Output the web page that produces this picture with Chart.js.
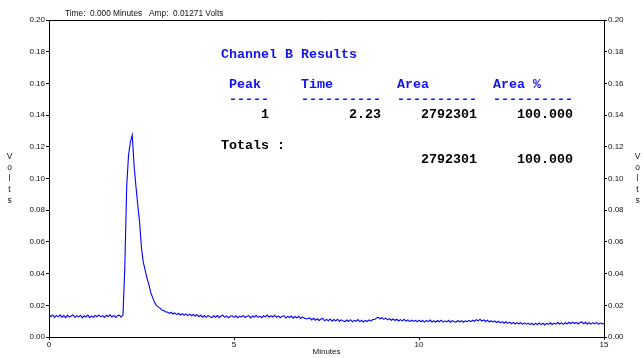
<!DOCTYPE html>
<html>
<head>
<meta charset="utf-8">
<script src="https://cdn.jsdelivr.net/npm/chart.js@4.4.1/dist/chart.umd.min.js"></script>
<style>
  body { margin: 0; background: #fff; }
  #container { width: 643px; height: 358px; position: relative; }
</style>
</head>
<body>
<div id="container"><canvas id="canvas"></canvas></div>
<script>
// detector trace, one reading every 0.05 min from 0 to 15 min
var sampleStep = 0.05;
var volts = [
  0.0144,0.0128,0.0139,0.0124,0.0136,0.0127,0.0140,0.0125,0.0135,0.0122,0.0138,0.0126,0.0133,0.0139,0.0123,0.0135,0.0127,0.0137,0.0121,0.0134,
  0.0126,0.0138,0.0122,0.0133,0.0125,0.0136,0.0128,0.0139,0.0127,0.0135,0.0123,0.0137,0.0129,0.0140,0.0126,0.0136,0.0123,0.0134,0.0138,0.0127,
  0.0138,0.0450,0.0950,0.1150,0.1230,0.1275,0.1080,0.0950,0.0830,0.0720,0.0560,0.0470,0.0420,0.0370,0.0330,0.0280,0.0250,0.0220,0.0200,0.0190,
  0.0182,0.0170,0.0167,0.0158,0.0158,0.0149,0.0156,0.0145,0.0152,0.0141,0.0150,0.0139,0.0147,0.0137,0.0146,0.0135,0.0144,0.0134,0.0142,0.0132,
  0.0140,0.0129,0.0137,0.0125,0.0135,0.0124,0.0136,0.0127,0.0122,0.0134,0.0125,0.0135,0.0123,0.0132,0.0137,0.0124,0.0133,0.0122,0.0131,0.0135,
  0.0124,0.0134,0.0122,0.0132,0.0125,0.0136,0.0123,0.0131,0.0135,0.0121,0.0133,0.0126,0.0137,0.0124,0.0132,0.0122,0.0134,0.0127,0.0138,0.0125,
  0.0135,0.0126,0.0137,0.0124,0.0133,0.0122,0.0131,0.0134,0.0120,0.0130,0.0123,0.0133,0.0119,0.0129,0.0121,0.0131,0.0117,0.0127,0.0119,0.0115,
  0.0116,0.0121,0.0108,0.0118,0.0106,0.0115,0.0104,0.0113,0.0117,0.0102,0.0111,0.0103,0.0114,0.0100,0.0110,0.0102,0.0112,0.0099,0.0108,0.0101,
  0.0097,0.0107,0.0098,0.0109,0.0096,0.0105,0.0099,0.0110,0.0097,0.0106,0.0095,0.0105,0.0098,0.0108,0.0100,0.0110,0.0110,0.0120,0.0124,0.0115,
  0.0122,0.0111,0.0119,0.0108,0.0116,0.0106,0.0114,0.0104,0.0112,0.0101,0.0110,0.0102,0.0112,0.0099,0.0108,0.0097,0.0106,0.0098,0.0105,0.0096,
  0.0106,0.0096,0.0104,0.0094,0.0105,0.0097,0.0107,0.0095,0.0103,0.0093,0.0104,0.0096,0.0106,0.0094,0.0102,0.0095,0.0105,0.0093,0.0103,0.0096,
  0.0094,0.0104,0.0095,0.0103,0.0093,0.0102,0.0096,0.0105,0.0097,0.0106,0.0099,0.0109,0.0103,0.0111,0.0101,0.0108,0.0098,0.0106,0.0095,0.0103,
  0.0094,0.0101,0.0091,0.0099,0.0089,0.0097,0.0087,0.0096,0.0086,0.0094,0.0084,0.0092,0.0082,0.0091,0.0083,0.0090,0.0080,0.0089,0.0081,0.0088,
  0.0078,0.0087,0.0077,0.0086,0.0079,0.0089,0.0078,0.0087,0.0076,0.0086,0.0080,0.0090,0.0079,0.0088,0.0081,0.0091,0.0082,0.0089,0.0080,0.0090,
  0.0083,0.0093,0.0084,0.0094,0.0085,0.0092,0.0082,0.0091,0.0095,0.0084,0.0093,0.0082,0.0090,0.0081,0.0091,0.0083,0.0092,0.0080,0.0089,0.0082,
  0.0086
];

// results table
var peakNumbers = [1];
var peakTimes = ["2.23"];
var peakAreas = ["2792301"];
var peakAreaPct = ["100.000"];
var totalArea = "2792301";
var totalAreaPct = "100.000";

var headerText = "Time:  0.000 Minutes   Amp:  0.01271 Volts";

var points = volts.map(function(v, i){ return {x: +(i * sampleStep).toFixed(2), y: v}; });

var blue = '#1212f0';
var tickFont = {family: '"Liberation Sans", Arial, sans-serif', size: 8};

/**
 * 文字: 表格, 標題, 框線
 */
var overlay = {
    id: 'overlay',
    afterDraw: function(chart){
        var ctx = chart.ctx, a = chart.chartArea;
        ctx.save();
        ctx.strokeStyle = '#000';
        ctx.lineWidth = 1;
        ctx.beginPath();
        ctx.moveTo(a.left, a.top + 0.5);
        ctx.lineTo(a.right, a.top + 0.5);
        ctx.stroke();

        ctx.fillStyle = '#111';
        ctx.font = '8.3px "Liberation Sans", Arial, sans-serif';
        ctx.textAlign = 'left';
        ctx.textBaseline = 'alphabetic';
        ctx.fillText(headerText, 65, 16);

        // Volts, stacked letters
        ctx.font = '8.5px "Liberation Sans", Arial, sans-serif';
        ctx.textAlign = 'center';
        ctx.textBaseline = 'middle';
        var letters = 'Volts'.split('');
        letters.forEach(function(c, i){
            ctx.fillText(c, 9.5, 157 + i * 10.8);
            ctx.fillText(c, 637.5, 157 + i * 10.8);
        });

        // table
        ctx.textBaseline = 'alphabetic';
        ctx.font = 'bold 13.33px "Liberation Mono", "DejaVu Sans Mono", monospace';
        var x0 = 221, cw = 8;
        ctx.textAlign = 'left';
        ctx.fillStyle = blue;
        ctx.fillText('Channel B Results', x0, 58);
        var heads = [['Peak', 1], ['Time', 10], ['Area', 22], ['Area %', 34]];
        heads.forEach(function(h){ ctx.fillText(h[0], x0 + h[1] * cw, 88); });
        var dashes = [[1, 5], [10, 10], [22, 10], [34, 10]];
        dashes.forEach(function(d){ ctx.fillText('-'.repeat(d[1]), x0 + d[0] * cw, 103); });

        ctx.fillStyle = '#000';
        ctx.textAlign = 'right';
        peakNumbers.forEach(function(p, i){
            var y = 118 + i * 15;
            ctx.fillText(String(p), x0 + 6 * cw, y);
            ctx.fillText(peakTimes[i], x0 + 20 * cw, y);
            ctx.fillText(peakAreas[i], x0 + 32 * cw, y);
            ctx.fillText(peakAreaPct[i], x0 + 44 * cw, y);
        });
        ctx.textAlign = 'left';
        ctx.fillText('Totals :', x0, 149);
        ctx.textAlign = 'right';
        ctx.fillText(totalArea, x0 + 32 * cw, 163);
        ctx.fillText(totalAreaPct, x0 + 44 * cw, 163);
        ctx.restore();
    }
};

var config = {
    type: 'line',
    data: {
        datasets: [{
            data: points,
            borderColor: '#0000ff',
            borderWidth: 1.1,
            pointRadius: 0,
            tension: 0,
            fill: false
        }]
    },
    options: {
        responsive: true,
        maintainAspectRatio: false,
        animation: false,
        layout: {padding: {top: 20, left: 0, right: 0, bottom: 0}},
        plugins: {legend: {display: false}, tooltip: {enabled: false}},
        scales: {
            x: {
                type: 'linear',
                min: 0, max: 15,
                ticks: {stepSize: 5, color: '#111', font: tickFont, padding: 0, maxRotation: 0},
                grid: {drawOnChartArea: false, tickLength: 3, color: '#000'},
                border: {color: '#000', width: 1},
                title: {display: true, text: 'Minutes', color: '#111', font: tickFont, padding: {top: 0, bottom: 1}},
                afterFit: function(s){ s.height = 21; }
            },
            y: {
                position: 'left',
                min: 0, max: 0.2,
                ticks: {stepSize: 0.02, color: '#111', font: tickFont, padding: 1,
                    callback: function(v){ return v.toFixed(2); }},
                grid: {drawOnChartArea: false, tickLength: 3, color: '#000'},
                border: {color: '#000', width: 1},
                afterFit: function(s){ s.width = 49; }
            },
            y2: {
                position: 'right',
                min: 0, max: 0.2,
                ticks: {stepSize: 0.02, color: '#111', font: tickFont, padding: 1,
                    callback: function(v){ return v.toFixed(2); }},
                grid: {drawOnChartArea: false, tickLength: 3, color: '#000'},
                border: {color: '#000', width: 1},
                afterFit: function(s){ s.width = 39; }
            }
        }
    },
    plugins: [overlay]
};

window.myChart = new Chart(document.getElementById('canvas').getContext('2d'), config);
</script>
</body>
</html>
